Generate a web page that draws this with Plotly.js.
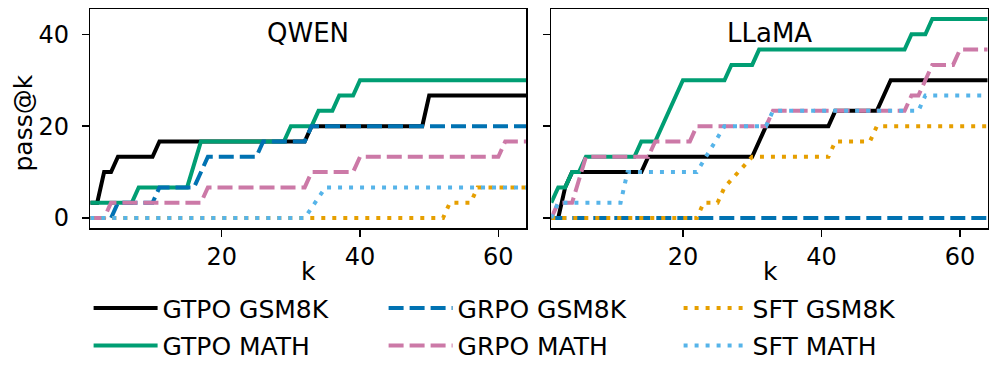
<!DOCTYPE html>
<html>
<head>
<meta charset="utf-8">
<script src="https://cdn.plot.ly/plotly-3.0.1.min.js"></script>
<style>
  html, body { margin: 0; padding: 0; background: #fff; }
  #chart { width: 997px; height: 380px; }
</style>
</head>
<body>
<div id="chart"></div>
<script>
// pass@k (%), each series given by its corner points (k, value)
// QWEN
const qwenGtpoGsmK = [1, 2, 3, 4, 5, 10, 11, 32, 33, 49, 50, 64];
const qwenGtpoGsmP = [3.33, 3.33, 10, 10, 13.33, 13.33, 16.67, 16.67, 20, 20, 26.67, 26.67];
const qwenGtpoMathK = [1, 7, 8, 15, 17, 29, 30, 33, 34, 36, 37, 39, 40, 64];
const qwenGtpoMathP = [3.33, 3.33, 6.67, 6.67, 16.67, 16.67, 20, 20, 23.33, 23.33, 26.67, 26.67, 30, 30];
const qwenGrpoGsmK = [1, 4, 5, 10, 11, 16, 18, 25, 26, 32, 33, 64];
const qwenGrpoGsmP = [0, 0, 3.33, 3.33, 6.67, 6.67, 13.33, 13.33, 16.67, 16.67, 20, 20];
const qwenGrpoMathK = [1, 3, 4, 17, 18, 32, 33, 39, 40, 60, 61, 64];
const qwenGrpoMathP = [0, 0, 3.33, 3.33, 6.67, 6.67, 10, 10, 13.33, 13.33, 16.67, 16.67];
const qwenSftGsmK = [1, 52, 53, 56, 57, 64];
const qwenSftGsmP = [0, 0, 3.33, 3.33, 6.67, 6.67];
const qwenSftMathK = [1, 32, 35, 64];
const qwenSftMathP = [0, 0, 6.67, 6.67];

// LLaMA
const llamaGtpoGsmK = [1, 2, 3, 4, 14, 15, 30, 32, 41, 42, 48, 50, 64];
const llamaGtpoGsmP = [0, 0, 6.67, 10, 10, 13.33, 13.33, 20, 20, 23.33, 23.33, 30, 30];
const llamaGtpoMathK = [1, 2, 3, 4, 5, 6, 13, 14, 16, 20, 26, 27, 30, 31, 52, 53, 55, 56, 64];
const llamaGtpoMathP = [3.33, 6.67, 6.67, 10, 10, 13.33, 13.33, 16.67, 16.67, 30, 30, 33.33, 33.33, 36.67, 36.67, 40, 40, 43.33, 43.33];
const llamaGrpoGsmK = [1, 64];
const llamaGrpoGsmP = [0, 0];
const llamaGrpoMathK = [1, 2, 4, 6, 15, 16, 21, 22, 32, 33, 52, 53, 54, 56, 59, 60, 64];
const llamaGrpoMathP = [0, 3.33, 3.33, 13.33, 13.33, 16.67, 16.67, 20, 20, 23.33, 23.33, 26.67, 26.67, 33.33, 33.33, 36.67, 36.67];
const llamaSftGsmK = [1, 22, 23, 25, 26, 28, 30, 41, 42, 47, 48, 64];
const llamaSftGsmP = [0, 0, 3.33, 3.33, 6.67, 10, 13.33, 13.33, 16.67, 16.67, 20, 20];
const llamaSftMathK = [1, 2, 11, 12, 22, 26, 32, 33, 54, 55, 64];
const llamaSftMathP = [0, 3.33, 3.33, 10, 10, 20, 20, 23.33, 23.33, 26.67, 26.67];

const seriesNames = ["GTPO GSM8K", "GTPO MATH", "GRPO GSM8K", "GRPO MATH", "SFT GSM8K", "SFT MATH"];
const panelTitles = ["QWEN", "LLaMA"];
const xTicks = [20, 40, 60];
const yTicks = [0, 20, 40];

const styles = {
  "GTPO GSM8K": { color: "#000000", dash: "solid", legend: "legend" },
  "GTPO MATH": { color: "#009E73", dash: "solid", legend: "legend2" },
  "GRPO GSM8K": { color: "#0072B2", dash: "15px,6px", legend: "legend" },
  "GRPO MATH": { color: "#CC79A7", dash: "15px,6px", legend: "legend2" },
  "SFT GSM8K": { color: "#E69F00", dash: "4px,7px", legend: "legend" },
  "SFT MATH": { color: "#56B4E9", dash: "4px,7px", legend: "legend2" },
};

const panels = [
  {
    xaxis: "x", yaxis: "y",
    k: [qwenGtpoGsmK, qwenGtpoMathK, qwenGrpoGsmK, qwenGrpoMathK, qwenSftGsmK, qwenSftMathK],
    p: [qwenGtpoGsmP, qwenGtpoMathP, qwenGrpoGsmP, qwenGrpoMathP, qwenSftGsmP, qwenSftMathP],
  },
  {
    xaxis: "x2", yaxis: "y2",
    k: [llamaGtpoGsmK, llamaGtpoMathK, llamaGrpoGsmK, llamaGrpoMathK, llamaSftGsmK, llamaSftMathK],
    p: [llamaGtpoGsmP, llamaGtpoMathP, llamaGrpoGsmP, llamaGrpoMathP, llamaSftGsmP, llamaSftMathP],
  },
];

const traces = [];
panels.forEach((panel, pi) => {
  seriesNames.forEach((name, i) => {
    const st = styles[name];
    traces.push({
      x: panel.k[i],
      y: panel.p[i],
      xaxis: panel.xaxis,
      yaxis: panel.yaxis,
      type: "scatter",
      mode: "lines",
      name: name,
      legend: st.legend,
      showlegend: pi === 0,
      line: { color: st.color, dash: st.dash, width: 4 },
      hoverinfo: "skip",
    });
  });
});

const W = 997, H = 380;
const px = (v) => v / W;
const py = (v) => (H - v) / H;

const xAxisBase = {
  range: [1, 64],
  tickvals: xTicks,
  ticks: "outside",
  ticklen: 7,
  tickwidth: 1.5,
  tickcolor: "#000",
  showline: true,
  mirror: true,
  linewidth: 1.5,
  linecolor: "#000",
  showgrid: false,
  zeroline: false,
  tickfont: { size: 24 },
};
const yAxisBase = {
  range: [-2.17, 45.5],
  tickvals: yTicks,
  ticks: "outside",
  ticklen: 7,
  tickwidth: 1.5,
  tickcolor: "#000",
  showline: true,
  mirror: true,
  linewidth: 1.5,
  linecolor: "#000",
  showgrid: false,
  zeroline: false,
  tickfont: { size: 24 },
  ticklabelstandoff: 8,
  domain: [py(228), py(9)],
};

// two one-row legends, to get the 3x2 grid of the original
const legendBase = {
  orientation: "h",
  xanchor: "left",
  yanchor: "middle",
  x: px(88.6),
  entrywidthmode: "pixels",
  entrywidth: 216,
  itemwidth: 64,
  font: { size: 25 },
  bgcolor: "rgba(0,0,0,0)",
};

const annotations = [
  { text: panelTitles[0], x: px(308), y: py(33), font: { size: 26 } },
  { text: panelTitles[1], x: px(769.5), y: py(33), font: { size: 26 } },
  { text: "k", x: px(308), y: py(271), font: { size: 25 } },
  { text: "k", x: px(770), y: py(271), font: { size: 25 } },
  { text: "pass@k", x: px(23), y: py(123.5), textangle: -90, font: { size: 25 } },
].map((a) => Object.assign({ xref: "paper", yref: "paper", showarrow: false, xanchor: "center", yanchor: "middle" }, a));

const layout = {
  width: W,
  height: H,
  margin: { l: 0, r: 0, t: 0, b: 0 },
  paper_bgcolor: "#fff",
  plot_bgcolor: "#fff",
  font: { family: "DejaVu Sans", size: 24, color: "#000" },
  xaxis: Object.assign({}, xAxisBase, { domain: [px(90.3), px(526)], anchor: "y" }),
  yaxis: Object.assign({}, yAxisBase, { anchor: "x" }),
  xaxis2: Object.assign({}, xAxisBase, { domain: [px(551.3), px(987.7)], anchor: "y2" }),
  yaxis2: Object.assign({}, yAxisBase, { anchor: "x2", showticklabels: false }),
  legend: Object.assign({}, legendBase, { y: py(308.3) }),
  legend2: Object.assign({}, legendBase, { y: py(345.7) }),
  annotations: annotations,
};

Plotly.newPlot("chart", traces, layout, { displayModeBar: false, staticPlot: true });
</script>
</body>
</html>
